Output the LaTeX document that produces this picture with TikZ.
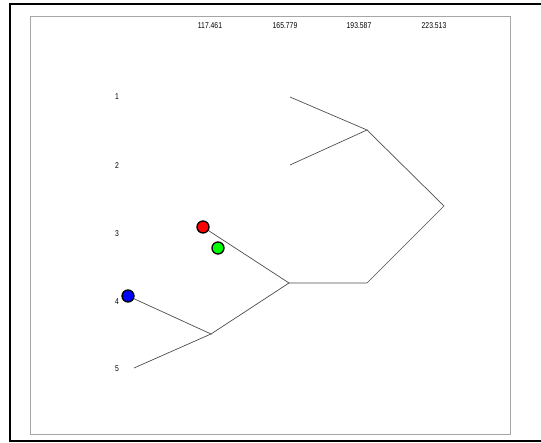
\documentclass[tikz,border=0pt]{standalone}
\usepackage{fontspec}
\setmainfont{Liberation Sans}
\newfontfamily\narrowfont[FakeStretch=0.8]{Liberation Sans}

\begin{document}
\begin{tikzpicture}[
		x=1pt, y=-1pt,
		tick/.style={
			font=\narrowfont\fontsize{8.5}{10}\selectfont,
			inner sep=0pt
		},
		leaflabel/.style={
			font=\narrowfont\fontsize{8.5}{10}\selectfont,
			inner sep=0pt
		},
		branch/.style={draw, black!70, line width=0.7pt},
		dot/.style={
			circle,
			draw,
			line width=1.3pt,
			minimum size=12pt,
			inner sep=0pt
		}
		]
		
		\useasboundingbox (0,0) rectangle (541,443);
		
		% Frames
		\draw[line width=2pt] (541,4) -- (10,4) -- (10,441) -- (541,441);
		\draw[black!35, line width=0.9pt] (30,16) rectangle (510,434);
		
		% Height scale
		\node[tick] (h1) at (210,26) {117.461};
		\node[tick] (h2) at (285,26) {165.779};
		\node[tick] (h3) at (359,26) {193.587};
		\node[tick] (h4) at (434,26) {223.513};
		
		% Leaf labels
		\node[leaflabel] (lab1) at (117,97) {1};
		\node[leaflabel] (lab2) at (117,166) {2};
		\node[leaflabel] (lab3) at (117,234) {3};
		\node[leaflabel] (lab4) at (117,302) {4};
		\node[leaflabel] (lab5) at (117,369) {5};
		
		% Leaves
		\coordinate (leaf1) at (290,97);
		\coordinate (leaf2) at (290,165);
		\coordinate (leaf3) at (203,227);
		\coordinate (leaf4) at (128,296);
		\coordinate (leaf5) at (134,368);
		
		% Joins
		\coordinate (j45) at (211,334);
		\coordinate (j345) at (289,283);
		\coordinate (j345b) at (367,283);
		\coordinate (j12) at (367,130);
		\coordinate (root) at (444,206);
		
		% Branches
		\draw[branch] (leaf1) -- (j12) -- (leaf2);
		\draw[branch] (leaf4) -- (j45) -- (leaf5);
		\draw[branch] (leaf3) -- (j345) -- (j45);
		\draw[branch] (j12) -- (root) -- (j345b) -- (j345);
		
		% Marks
		\node[dot, fill=red] (mred) at (leaf3) {};
		\node[dot, fill=green] (mgreen) at (218,248) {};
		\node[dot, fill=blue] (mblue) at (leaf4) {};
		
	\end{tikzpicture}
\end{document}
